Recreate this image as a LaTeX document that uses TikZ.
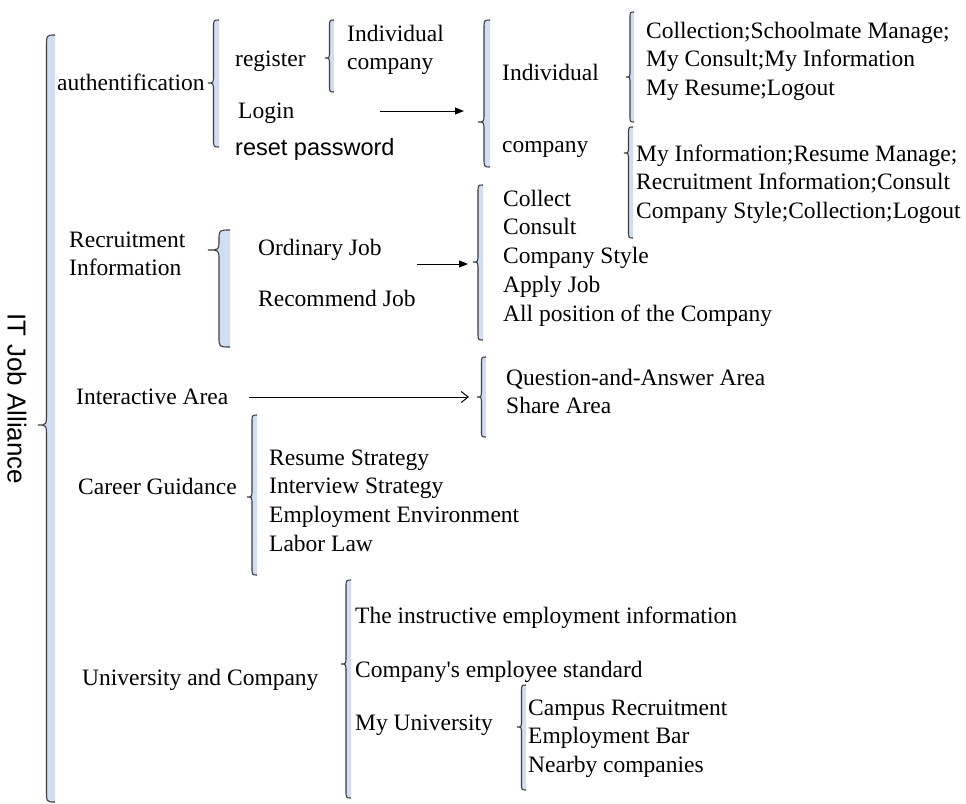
\documentclass[tikz,border=0pt]{standalone}
\usepackage{fontspec}
\setmainfont{Liberation Serif}[Ligatures=TeXOff]
\setsansfont{Liberation Sans}
\usetikzlibrary{arrows.meta,positioning}

\definecolor{bracegray}{HTML}{3C3C3C}
\definecolor{bracefill}{HTML}{D0DDF2}

% left curly brace: tip x, top y, tip y, bottom y, width
\newcommand\wbrace[5]{%
  \pgfmathsetmacro\brx{#1+#5/2}%
  \pgfmathsetmacro\bre{#1+#5}%
  \pgfmathsetmacro\brr{min(0.6*#5+2,(#3-#2)/2,(#4-#3)/2)}%
  \draw[wb] (\bre,#2) .. controls (\brx,#2) .. (\brx,{#2+\brr})
    -- (\brx,{#3-\brr}) .. controls (\brx,#3) .. (#1,#3)
    .. controls (\brx,#3) .. (\brx,{#3+\brr})
    -- (\brx,{#4-\brr}) .. controls (\brx,#4) .. (\bre,#4);%
}

\tikzset{
  lbl/.style={anchor=west, inner sep=0pt, text height=16pt, text depth=0pt},
  nextline/.style={below right=12.5pt and 0pt of #1.south west},
  wb/.style={draw=bracegray, line width=1.1pt, fill=bracefill},
  arr/.style={-{Triangle[length=9pt,width=7pt]}, line width=1pt},
  openarr/.style={-{Straight Barb[length=7pt,width=11pt]}, line width=1pt}
}

\begin{document}
\begin{tikzpicture}[x=1pt, y=-1pt, font=\fontsize{23.5}{28.5}\selectfont]
    \useasboundingbox (0,0) rectangle (966,803);

    % braces
    \wbrace{38}{35}{425}{802}{17}
    \wbrace{208}{20}{83}{147}{11}
    \wbrace{325}{20}{58}{92}{9}
    \wbrace{478}{20}{122}{167}{12}
    \wbrace{626}{12}{77}{122}{8}
    \wbrace{624}{127}{153}{238}{9}
    \wbrace{473}{185}{262}{340}{10}
    \wbrace{208}{230}{250}{347}{22}
    \wbrace{477}{357}{397}{437}{9}
    \wbrace{247}{415}{497}{575}{10}
    \wbrace{341}{580}{664}{798}{10}
    \wbrace{517}{685}{727}{790}{9}

    \node[rotate=-90, font=\sffamily\fontsize{26}{30}\selectfont] (root) at (17,399) {IT Job Alliance};

    % authentification
    \node[lbl] (auth) at (57,82) {authentification};
    \node[lbl] (reg) at (235,58) {register};
    \node[lbl] (regind) at (347,33) {Individual};
    \node[lbl, nextline=regind] (regcom) {company};
    \node[lbl] (login) at (238,110) {Login};
    \node[lbl, font=\sffamily\fontsize{23.5}{28.5}\selectfont] (reset) at (235,147) {reset password};
    \node[lbl] (ind) at (502,72) {Individual};
    \node[lbl] (com) at (502,144) {company};
    \node[lbl] (ind1) at (646,30) {Collection;Schoolmate Manage;};
    \node[lbl, nextline=ind1] (ind2) {My Consult;My Information};
    \node[lbl, nextline=ind2] (ind3) {My Resume;Logout};
    \node[lbl] (com1) at (636,153) {My Information;Resume Manage;};
    \node[lbl, nextline=com1] (com2) {Recruitment Information;Consult};
    \node[lbl, nextline=com2] (com3) {Company Style;Collection;Logout};
    \coordinate (loginA) at (380,111);
    \coordinate (loginB) at (464,111);
    \draw[arr] (loginA) -- (loginB);

    % recruitment information
    \node[lbl] (rec1) at (69,239) {Recruitment};
    \node[lbl, nextline=rec1] (rec2) {Information};
    \node[lbl] (ord) at (258,247) {Ordinary Job};
    \node[lbl] (recom) at (258,298) {Recommend Job};
    \node[lbl] (job1) at (503,198) {Collect};
    \node[lbl, nextline=job1] (job2) {Consult};
    \node[lbl, nextline=job2] (job3) {Company Style};
    \node[lbl, nextline=job3] (job4) {Apply Job};
    \node[lbl, nextline=job4] (job5) {All position of the Company};
    \coordinate (recA) at (417,264);
    \coordinate (recB) at (468,264);
    \draw[arr] (recA) -- (recB);

    % interactive area
    \node[lbl] (inter) at (76,396) {Interactive Area};
    \node[lbl] (qa1) at (506,377) {Question-and-Answer Area};
    \node[lbl, nextline=qa1] (qa2) {Share Area};
    \coordinate (interA) at (249,397);
    \coordinate (interB) at (469,397);
    \draw[openarr] (interA) -- (interB);

    % career guidance
    \node[lbl] (career) at (78,486) {Career Guidance};
    \node[lbl] (car1) at (269,457) {Resume Strategy};
    \node[lbl, nextline=car1] (car2) {Interview Strategy};
    \node[lbl, nextline=car2] (car3) {Employment Environment};
    \node[lbl, nextline=car3] (car4) {Labor Law};

    % university and company
    \node[lbl] (univ) at (82,677) {University and Company};
    \node[lbl] (uc1) at (355,615) {The instructive employment information};
    \node[lbl] (uc2) at (355,669) {Company's employee standard};
    \node[lbl] (uc3) at (355,722) {My University};
    \node[lbl] (my1) at (528,707) {Campus Recruitment};
    \node[lbl, nextline=my1] (my2) {Employment Bar};
    \node[lbl, nextline=my2] (my3) {Nearby companies};
  \end{tikzpicture}
\end{document}
